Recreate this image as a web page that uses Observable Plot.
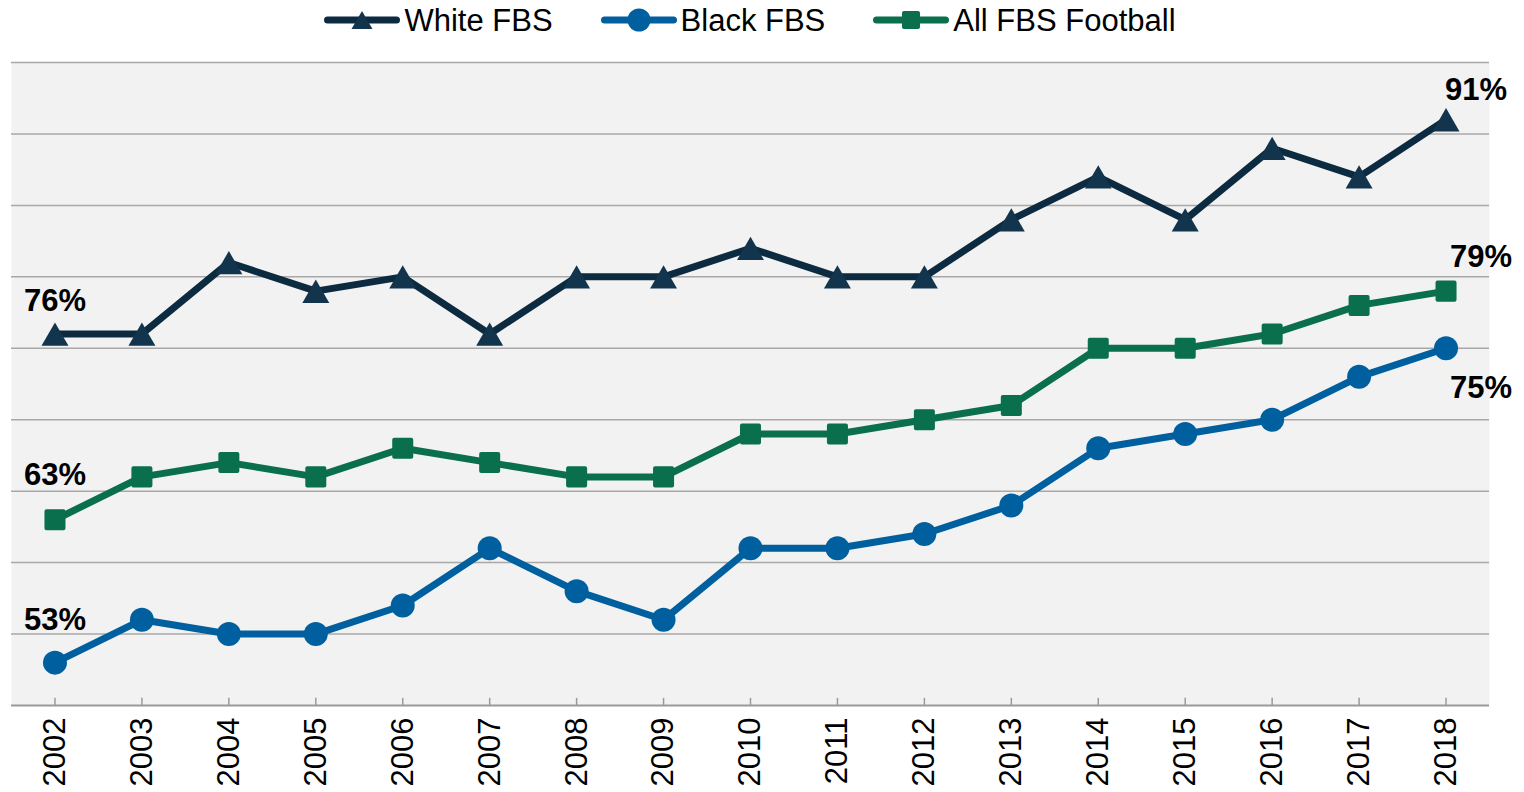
<!DOCTYPE html>
<html><head><meta charset="utf-8">
<script src="https://cdn.jsdelivr.net/npm/d3@7"></script>
<script src="https://cdn.jsdelivr.net/npm/@observablehq/plot@0.6"></script>
<style>
body{margin:0;background:#fff;font-family:"Liberation Sans",Arial,sans-serif;}
#legend{height:40px;width:1524px;display:flex;justify-content:center;align-items:center;gap:48px;padding:0 35px 0 11px;box-sizing:border-box;}
.item{display:flex;align-items:center;font-size:31px;color:#000;line-height:1;}
.item svg{margin-right:4px;display:block}
#chart svg{display:block}
</style></head><body>
<div id="legend"></div>
<div id="chart"></div>
<script>
const years = [2002,2003,2004,2005,2006,2007,2008,2009,2010,2011,2012,2013,2014,2015,2016,2017,2018];
const whiteFBS = [76,76,81,79,80,76,80,80,82,80,80,84,87,84,89,87,91];
const blackFBS = [53,56,55,55,57,61,58,56,61,61,62,64,68,69,70,73,75];
const allFBS   = [63,66,67,66,68,67,66,66,69,69,70,71,75,75,76,78,79];
const seriesNames = ["White FBS","Black FBS","All FBS Football"];
const seriesColors = ["#0c2a40","#005f9e","#0a6f4c"];
const gridValues = [50,55,60,65,70,75,80,85,90,95];

const seriesValues = [whiteFBS, blackFBS, allFBS];
const rows = seriesNames.flatMap((s, k) => years.map((yr, i) => ({year: yr, series: s, value: seriesValues[k][i]})));
const bySeries = s => rows.filter(d => d.series === s);

// Legend
const legend = document.getElementById("legend");
const symPaths = [
  d3.symbol(d3.symbolTriangle, Math.sqrt(3)/4*21*21)(),
  d3.symbol(d3.symbolCircle, Math.PI*11.5*11.5)(),
  d3.symbol(d3.symbolSquare, 14*14)()
];
seriesNames.forEach((s, k) => {
  const item = document.createElement("div");
  item.className = "item";
  const extra = k === 2 ? ` stroke="${seriesColors[k]}" stroke-width="4" stroke-linejoin="round"` : "";
  item.innerHTML = `<svg width="76" height="26" viewBox="0 0 76 26"><line x1="3.5" x2="72.5" y1="13" y2="13" stroke="${seriesColors[k]}" stroke-width="7" stroke-linecap="round"/><path transform="translate(38,${k===0?16:13})" d="${symPaths[k]}" fill="${k===0?"#12344d":seriesColors[k]}"${extra}/></svg><span>${s}</span>`;
  legend.appendChild(item);
});

const labelFont = {fontSize: 31, fontWeight: "bold", fill: "#000"};
const first = (arr) => [{year: years[0], value: arr[0]}];
const last = (arr) => [{year: years[years.length-1], value: arr[arr.length-1]}];
const pct = d => `${d.value}%`;

const chart = Plot.plot({
  width: 1524,
  height: 752,
  marginTop: 22,
  marginBottom: 87,
  marginLeft: 11,
  marginRight: 35,
  style: {fontFamily: '"Liberation Sans", Arial, sans-serif', background: "transparent", overflow: "visible"},
  x: {type: "point", domain: years, padding: 0.5, round: false, label: null},
  y: {domain: [50, 95], axis: null},
  color: {domain: seriesNames, range: seriesColors},
  marks: [
    Plot.frame({fill: "#f2f2f2", stroke: "none"}),
    Plot.ruleY(gridValues.filter(v => v > 50), {stroke: "#a8a8a8", strokeWidth: 1.5}),
    Plot.ruleY([gridValues[0]], {stroke: "#9a9a9a", strokeWidth: 2}),
    Plot.ruleX(years, {x: d => d, y1: 50, y2: 50.5, stroke: "#9a9a9a", strokeWidth: 1.5}),
    Plot.axisX({tickSize: 0, tickPadding: 12, tickRotate: -90, fontSize: 31, tickFormat: d => `${d}`, fill: "#000", label: null}),
    Plot.line(rows, {x: "year", y: "value", stroke: "series", strokeWidth: 7, strokeLinejoin: "round", strokeLinecap: "round"}),
    Plot.dot(bySeries("White FBS"), {x: "year", y: "value", symbol: "triangle", r: 10, dy: 4, fill: "#12344d"}),
    Plot.dot(bySeries("Black FBS"), {x: "year", y: "value", symbol: "circle", r: 12, fill: seriesColors[1]}),
    Plot.dot(bySeries("All FBS Football"), {x: "year", y: "value", symbol: "square", r: 9.6, fill: seriesColors[2], stroke: seriesColors[2], strokeWidth: 4, strokeLinejoin: "round"}),
    Plot.text(first(whiteFBS), {x: "year", y: "value", text: pct, dy: -33, ...labelFont}),
    Plot.text(first(allFBS), {x: "year", y: "value", text: pct, dy: -45, ...labelFont}),
    Plot.text(first(blackFBS), {x: "year", y: "value", text: pct, dy: -43, ...labelFont}),
    Plot.text(last(whiteFBS), {x: "year", y: "value", text: pct, dx: 30, dy: -30, ...labelFont}),
    Plot.text(last(allFBS), {x: "year", y: "value", text: pct, dx: 35, dy: -34, ...labelFont}),
    Plot.text(last(blackFBS), {x: "year", y: "value", text: pct, dx: 35, dy: 40, ...labelFont})
  ]
});
document.getElementById("chart").appendChild(chart);
</script>
</body></html>
